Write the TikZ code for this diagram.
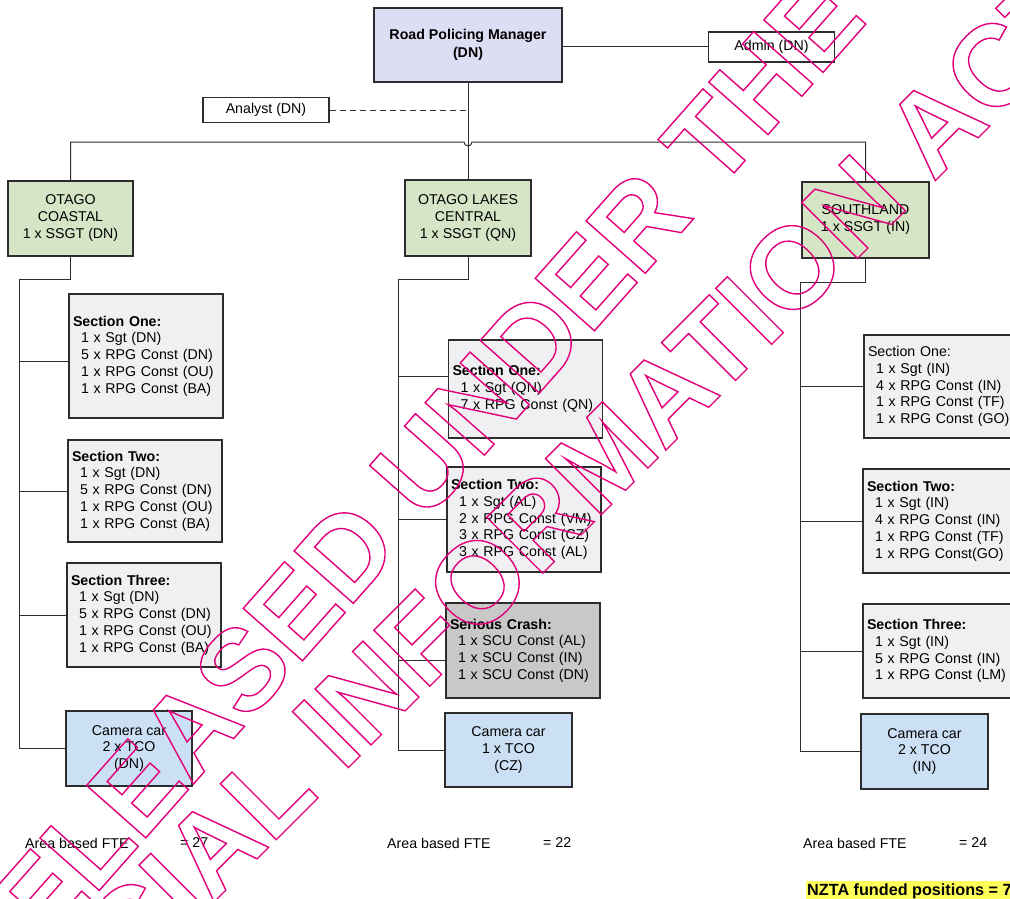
\documentclass[tikz,border=0pt]{standalone}
\usepackage{fontspec}
\setmainfont{Liberation Sans}
\definecolor{linec}{RGB}{45,45,45}
\definecolor{lavender}{RGB}{221,221,244}
\definecolor{areagreen}{RGB}{214,229,198}
\definecolor{secgray}{RGB}{240,240,242}
\definecolor{crashgray}{RGB}{200,200,200}
\definecolor{camblue}{RGB}{204,224,245}
\definecolor{hilite}{RGB}{255,255,90}
\definecolor{wm}{RGB}{226,0,122}
\newcommand\wmtext[1]{\special{pdf:literal direct 1 Tr 1.4 w}#1\special{pdf:literal direct 0 Tr}}
\newcommand\ind{\hspace*{8pt}}
\tikzset{
  base/.style={draw=linec, line width=1.1pt, inner sep=0pt, font=\fontsize{14.2}{16.7}\selectfont},
  mgrbox/.style={base, fill=lavender, align=center, font=\fontsize{14.2}{18}\selectfont\bfseries},
  areabox/.style={base, fill=areagreen, align=center, font=\fontsize{14.2}{17}\selectfont},
  secbox/.style={base, fill=secgray, align=left, text width=146pt, inner xsep=4pt},
  crashbox/.style={secbox, fill=crashgray},
  cambox/.style={base, fill=camblue, align=center},
  plainbox/.style={base, fill=white, align=center},
  conn/.style={draw=linec, line width=1pt},
  lbl/.style={anchor=west, inner sep=0pt, font=\fontsize{14.2}{16.7}\selectfont},
  wmark/.style={text=wm, inner sep=0pt, font=\fontsize{115}{115}\selectfont\bfseries}
}
\begin{document}
\begin{tikzpicture}[x=1pt,y=-1pt]
\useasboundingbox (0,0) rectangle (1010,899);
\fill[white] (0,0) rectangle (1010,899);

% top level
\node[mgrbox, minimum width=188pt, minimum height=74pt] (rpm) at (468,45) {Road Policing Manager\\(DN)};
\node[plainbox, minimum width=126pt, minimum height=30pt] (admin) at (771.5,47) {Admin (DN)};
\node[plainbox, minimum width=126pt, minimum height=25pt] (analyst) at (266,110) {Analyst (DN)};

% areas
\node[areabox, minimum width=125pt, minimum height=75pt] (oc) at (70.5,218.5) {OTAGO\\COASTAL\\1 x SSGT (DN)};
\node[areabox, minimum width=126pt, minimum height=76pt] (olc) at (468,218) {OTAGO LAKES\\CENTRAL\\1 x SSGT (QN)};
\node[areabox, minimum width=127pt, minimum height=76pt] (sl) at (865.5,220) {SOUTHLAND\\1 x SSGT (IN)};

% Otago Coastal sections
\node[secbox, minimum height=124pt] (oc1) at (146,356) {\textbf{Section One:}\\\ind 1 x Sgt (DN)\\\ind 5 x RPG Const (DN)\\\ind 1 x RPG Const (OU)\\\ind 1 x RPG Const (BA)};
\node[secbox, minimum height=102pt] (oc2) at (145,491) {\textbf{Section Two:}\\\ind 1 x Sgt (DN)\\\ind 5 x RPG Const (DN)\\\ind 1 x RPG Const (OU)\\\ind 1 x RPG Const (BA)};
\node[secbox, minimum height=104pt] (oc3) at (144,615) {\textbf{Section Three:}\\\ind 1 x Sgt (DN)\\\ind 5 x RPG Const (DN)\\\ind 1 x RPG Const (OU)\\\ind 1 x RPG Const (BA)};
\node[cambox, minimum width=126pt, minimum height=75pt] (occam) at (129,748.5) {Camera car\\2 x TCO\\(DN)};

% Otago Lakes Central sections
\node[secbox, minimum height=98pt] (olc1) at (525.5,389) {\textbf{Section One:}\\\ind 1 x Sgt (QN)\\\ind 7 x RPG Const (QN)};
\node[secbox, minimum height=105pt] (olc2) at (524,519.5) {\textbf{Section Two:}\\\ind 1 x Sgt (AL)\\\ind 2 x RPG Const (VM)\\\ind 3 x RPG Const (CZ)\\\ind 3 x RPG Const (AL)};
\node[crashbox, minimum height=95pt] (olcsc) at (523,650.5) {\textbf{Serious Crash:}\\\ind 1 x SCU Const (AL)\\\ind 1 x SCU Const (IN)\\\ind 1 x SCU Const (DN)};
\node[cambox, minimum width=127pt, minimum height=74pt] (olccam) at (508.5,750) {Camera car\\1 x TCO\\(CZ)};

% Southland sections
\node[secbox, minimum height=103pt] (sl1) at (941,386.5) {Section One:\\\ind 1 x Sgt (IN)\\\ind 4 x RPG Const (IN)\\\ind 1 x RPG Const (TF)\\\ind 1 x RPG Const (GO)};
\node[secbox, minimum height=104pt] (sl2) at (940,521) {\textbf{Section Two:}\\\ind 1 x Sgt (IN)\\\ind 4 x RPG Const (IN)\\\ind 1 x RPG Const (TF)\\\ind 1 x RPG Const(GO)};
\node[secbox, minimum height=94pt] (sl3) at (940,651) {\textbf{Section Three:}\\\ind 1 x Sgt (IN)\\\ind 5 x RPG Const (IN)\\\ind 1 x RPG Const (LM)};
\node[cambox, minimum width=127pt, minimum height=75pt] (slcam) at (924.5,751.5) {Camera car\\2 x TCO\\(IN)};

% top connectors
\draw[conn] (rpm.east |- admin.west) -- (admin.west);
\draw[conn, dash pattern=on 6pt off 4pt] (analyst.east) -- (analyst.east -| rpm.south);
\draw[conn] (rpm.south) -- (olc.north);
\coordinate (hopL) at (464,142);
\coordinate (hopR) at (472,142);
\draw[conn] (oc.north) |- (hopL) arc[start angle=180, end angle=360, radius=4pt] -| (sl.north);

% Otago Coastal branch
\coordinate (ocA) at (19,279);
\draw[conn] (oc.south) |- (ocA) |- (occam.west);
\draw[conn] (ocA |- oc1.west) ++(0,5) -- ([yshift=-5pt]oc1.west);
\draw[conn] (ocA |- oc2.west) -- (oc2.west);
\draw[conn] (ocA |- oc3.west) -- (oc3.west);

% Otago Lakes Central branch
\coordinate (olcA) at (398,279);
\draw[conn] (olc.south) |- (olcA) |- (olccam.west);
\draw[conn] (olcA |- olc1.west) ++(0,-13) -- ([yshift=13pt]olc1.west);
\draw[conn] (olcA |- olc2.west) -- (olc2.west);
\draw[conn] (olcA |- olcsc.west) ++(0,10) -- ([yshift=-10pt]olcsc.west);

% Southland branch
\coordinate (slA) at (800,282);
\draw[conn] (sl.south) |- (slA) |- (slcam.west);
\draw[conn] (slA |- sl1.west) -- (sl1.west);
\draw[conn] (slA |- sl2.west) -- (sl2.west);
\draw[conn] (slA |- sl3.west) -- (sl3.west);

% totals
\node[lbl] (fte1) at (25,843) {Area based FTE};
\node[lbl] (fte1v) at (180,843) {= 27};
\node[lbl] (fte2) at (387,843) {Area based FTE};
\node[lbl] (fte2v) at (543,843) {= 22};
\node[lbl] (fte3) at (803,843) {Area based FTE};
\node[lbl] (fte3v) at (959,843) {= 24};
\node[anchor=west, fill=hilite, inner xsep=1pt, inner ysep=2pt, font=\fontsize{16.2}{18}\selectfont\bfseries] (nzta) at (806,891) {NZTA funded positions = 7};

% watermark
\node[wmark, rotate=48.5] (wm1) at (399,492) {\wmtext{RELEASED UNDER THE}};
\node[wmark, rotate=45] (wm2) at (495,565) {\wmtext{OFFICIAL INFORMATION ACT}};
\end{tikzpicture}
\end{document}
